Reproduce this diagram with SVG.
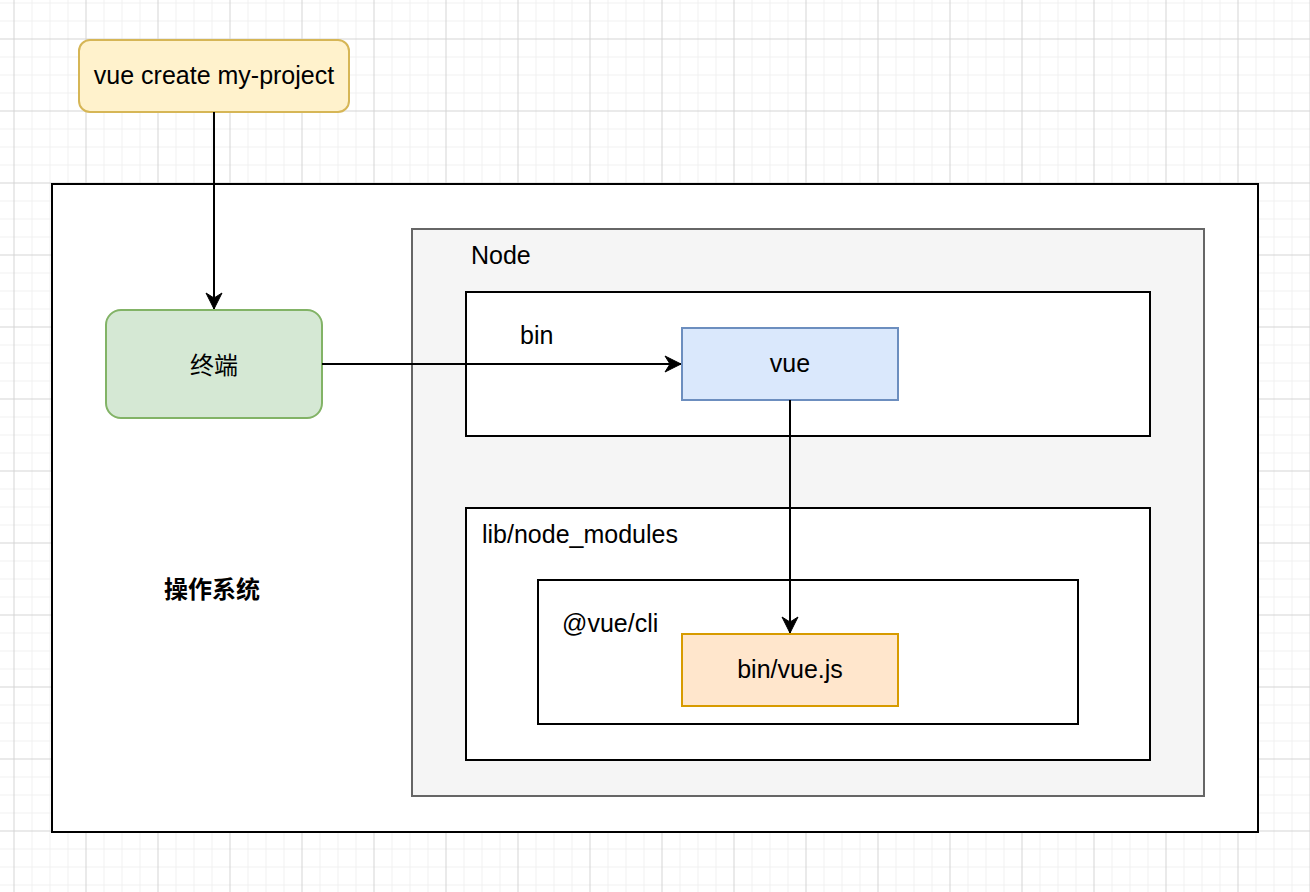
<svg xmlns="http://www.w3.org/2000/svg" width="1310" height="892" viewBox="0 0 1310 892">
  <defs>
    <pattern id="grid" patternUnits="userSpaceOnUse" x="13.5" y="38.5" width="72" height="72">
      <rect x="0" y="0" width="72" height="72" fill="#ffffff"/>
      <g fill="#f0f0f0">
        <rect x="18" y="0" width="1" height="72"/>
        <rect x="36" y="0" width="1" height="72"/>
        <rect x="54" y="0" width="1" height="72"/>
        <rect x="0" y="18" width="72" height="1"/>
        <rect x="0" y="36" width="72" height="1"/>
        <rect x="0" y="54" width="72" height="1"/>
      </g>
      <g fill="#d4d4d4">
        <rect x="0" y="0" width="1" height="72"/>
        <rect x="0" y="0" width="72" height="1"/>
      </g>
    </pattern>
    <marker id="arrow" markerUnits="userSpaceOnUse" markerWidth="20" markerHeight="20" viewBox="-18 -10 20 20" refX="0" refY="0" orient="auto">
      <path d="M0,0 L-16,-8 L-11,0 L-16,8 Z" fill="#000000" stroke="#000000" stroke-width="1"/>
    </marker>
    <style>
      .txt { font-family: "Liberation Sans", Arial, "Noto Sans CJK SC", sans-serif; font-size: 25px; fill: #000000; }
      .cjk { font-family: "Noto Sans CJK SC", "Liberation Sans", sans-serif; font-size: 24px; fill: #000000; }
      .box { fill: #ffffff; stroke: #000000; stroke-width: 2; }
      .edge { fill: none; stroke: #000000; stroke-width: 2; }
    </style>
  </defs>

  <rect x="0" y="0" width="1310" height="892" fill="url(#grid)"/>

  <g id="cmd">
    <rect x="79" y="40" width="270" height="72" rx="11" ry="11" fill="#fff2cc" stroke="#d6b656" stroke-width="2"/>
    <text class="txt" x="214" y="84" text-anchor="middle">vue create my-project</text>
  </g>

  <g id="os">
    <rect class="box" x="52" y="184" width="1206" height="648"/>
    <text class="cjk" x="212" y="587" text-anchor="middle" dominant-baseline="central" font-weight="bold">操作系统</text>
  </g>

  <g id="terminal">
    <rect x="106" y="310" width="216" height="108" rx="15" ry="15" fill="#d5e8d4" stroke="#82b366" stroke-width="2"/>
    <text class="cjk" x="214" y="363" text-anchor="middle" dominant-baseline="central">终端</text>
  </g>

  <g id="node">
    <rect x="412" y="229" width="792" height="567" fill="#f5f5f5" stroke="#666666" stroke-width="2"/>
    <text class="txt" x="471" y="264">Node</text>
  </g>

  <g id="bin">
    <rect class="box" x="466" y="292" width="684" height="144"/>
    <text class="txt" x="520" y="344">bin</text>
  </g>

  <g id="vue">
    <rect x="682" y="328" width="216" height="72" fill="#dae8fc" stroke="#6c8ebf" stroke-width="2"/>
    <text class="txt" x="790" y="372" text-anchor="middle">vue</text>
  </g>

  <g id="libnode">
    <rect class="box" x="466" y="508" width="684" height="252"/>
    <text class="txt" x="482" y="543">lib/node_modules</text>
  </g>

  <g id="vuecli">
    <rect class="box" x="538" y="580" width="540" height="144"/>
    <text class="txt" x="562" y="632">@vue/cli</text>
  </g>

  <g id="binvuejs">
    <rect x="682" y="634" width="216" height="72" fill="#ffe6cc" stroke="#d79b00" stroke-width="2"/>
    <text class="txt" x="790" y="678" text-anchor="middle">bin/vue.js</text>
  </g>

  <g id="connectors">
    <path class="edge" d="M214,112 L214,309" marker-end="url(#arrow)"/>
    <path class="edge" d="M322,364 L681,364" marker-end="url(#arrow)"/>
    <path class="edge" d="M790,400 L790,633" marker-end="url(#arrow)"/>
  </g>
</svg>
